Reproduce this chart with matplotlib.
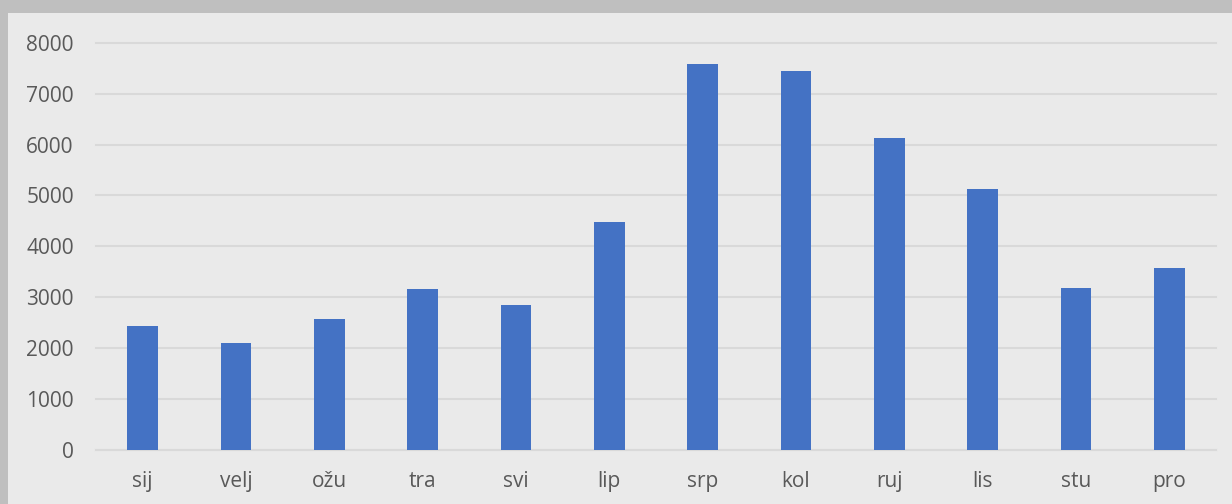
import matplotlib
matplotlib.use('Agg')
import matplotlib.pyplot as plt
from matplotlib.patches import Rectangle

# Dane: miesiące i wartości
months = ['sij', 'velj', 'ožu', 'tra', 'svi', 'lip', 'srp', 'kol', 'ruj', 'lis', 'stu', 'pro']
values = [2430, 2110, 2570, 3160, 2850, 4470, 7580, 7450, 6130, 5120, 3180, 3580]
y_ticks = [0, 1000, 2000, 3000, 4000, 5000, 6000, 7000, 8000]

plt.rcParams['font.family'] = ['Open Sans', 'DejaVu Sans']

fig = plt.figure(figsize=(12.32, 5.04), dpi=100)
fig.patch.set_facecolor('#BFBFBF')
# jasny panel (szara ramka u góry i z lewej)
fig.patches.append(Rectangle((8 / 1232, 0), 1 - 8 / 1232, 1 - 13 / 504,
                             transform=fig.transFigure, facecolor='#EAEAEA',
                             edgecolor='none', zorder=-10))

ax = fig.add_axes([96 / 1232, 1 - 450 / 504, (1216 - 96) / 1232, (450 - 42.7) / 504])
ax.set_facecolor('none')
ax.set_zorder(5)

x = range(len(months))
ax.bar(x, values, width=0.33, color='#4472C4', zorder=3)

ax.set_xlim(-0.5, len(months) - 0.5)
ax.set_ylim(0, 8000)
ax.set_yticks(y_ticks)
ax.set_xticks(list(x))
ax.set_xticklabels(months)

ax.grid(axis='y', color='#D9D9D9', linewidth=1.5, zorder=0)
for gl in ax.get_ygridlines():
    gl.set_clip_on(False)
ax.tick_params(axis='both', length=0, labelsize=15, labelcolor='#595959')
ax.tick_params(axis='y', pad=16)
ax.tick_params(axis='x', pad=15)
for s in ['top', 'right', 'left']:
    ax.spines[s].set_visible(False)
ax.spines['bottom'].set_color('#D9D9D9')
ax.spines['bottom'].set_linewidth(1.5)

fig.savefig('out.png', dpi=100, facecolor=fig.get_facecolor())
